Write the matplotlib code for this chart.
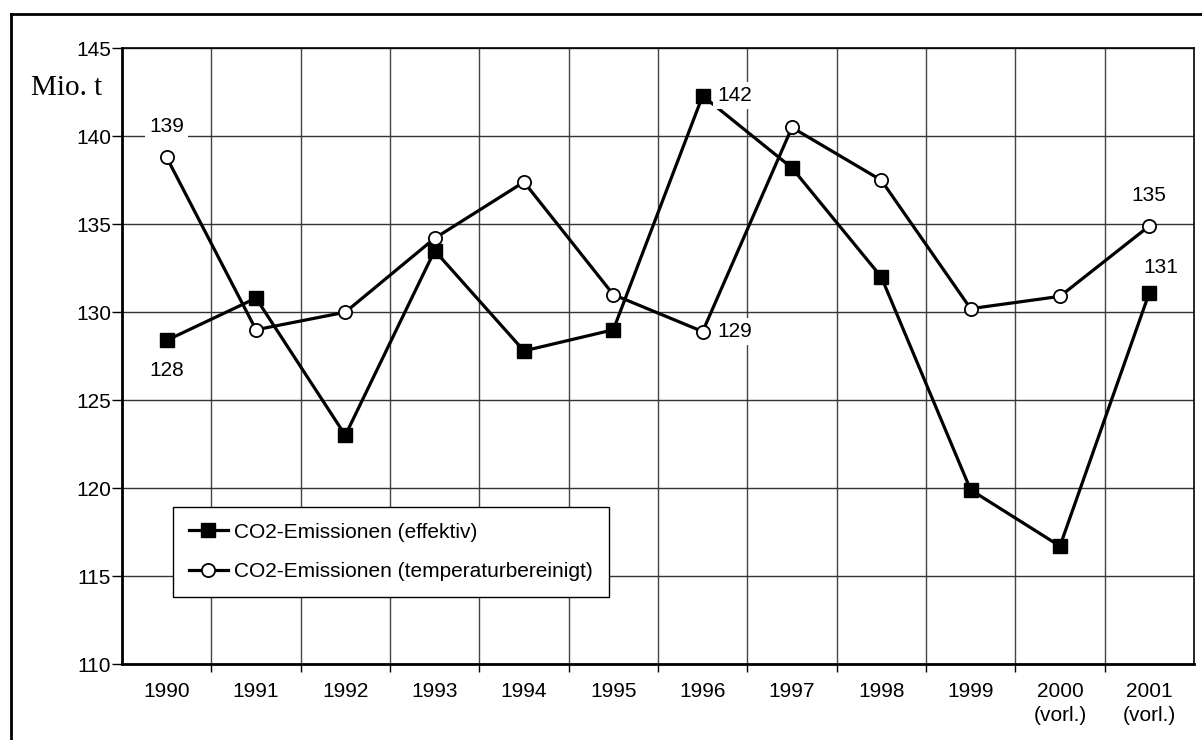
#!/usr/bin/env python
"""
Liniendiagramm der CO2-Emissionen 1990-2001 (effektiv und temperaturbereinigt)
"""
import numpy as np
import matplotlib
matplotlib.use('Agg')
import matplotlib.pyplot as plt
from matplotlib.lines import Line2D


YEARS = ['1990', '1991', '1992', '1993', '1994', '1995',
         '1996', '1997', '1998', '1999', '2000\n(vorl.)', '2001\n(vorl.)']

EFFEKTIV = [128.4, 130.8, 123.0, 133.5, 127.8, 129.0,
            142.3, 138.2, 132.0, 119.9, 116.7, 131.1]

TEMPERATURBEREINIGT = [138.8, 129.0, 130.0, 134.2, 137.4, 131.0,
                       128.9, 140.5, 137.5, 130.2, 130.9, 134.9]

# (index, series, label text, offset in points, white box)
VALUE_LABELS = [
    (0, 'temp', '139', (0, 22), True),
    (0, 'eff', '128', (0, -22), False),
    (6, 'eff', '142', (23, 0), True),
    (6, 'temp', '129', (23, 0), True),
    (11, 'temp', '135', (0, 22), False),
    (11, 'eff', '131', (8, 18), False),
]


def create_chart(out_file):

    plt.rcParams['font.family'] = ['Liberation Sans', 'DejaVu Sans']
    font_size = 15

    fig = plt.figure(figsize=(12.02, 7.40), dpi=100)
    ax = fig.add_axes([0.1015, 0.1027, 0.8918, 0.832])

    x = np.arange(len(YEARS))

    # Both series
    ax.plot(x, EFFEKTIV, color='black', lw=2.3, marker='s', markersize=9.5,
            markerfacecolor='black', markeredgecolor='black',
            label='CO2-Emissionen (effektiv)', zorder=3)
    ax.plot(x, TEMPERATURBEREINIGT, color='black', lw=2.3, marker='o',
            markersize=9.5, markerfacecolor='white', markeredgecolor='black',
            markeredgewidth=1.3,
            label='CO2-Emissionen (temperaturbereinigt)', zorder=4)

    # Value labels
    series = {'eff': EFFEKTIV, 'temp': TEMPERATURBEREINIGT}
    for idx, key, text, offset, boxed in VALUE_LABELS:
        bbox = None
        if boxed:
            bbox = dict(facecolor='white', edgecolor='none', pad=3)
        ax.annotate(text, (x[idx], series[key][idx]), xytext=offset,
                    textcoords='offset points', ha='center', va='center',
                    fontsize=font_size, bbox=bbox, zorder=5)

    # Axes
    ax.set_xlim(-0.5, len(YEARS) - 0.5)
    ax.set_ylim(110, 145)
    ax.set_yticks(np.arange(110, 146, 5))
    ax.set_xticks(x)
    ax.set_xticklabels(YEARS, linespacing=1.3)
    ax.set_xticks(x[:-1] + 0.5, minor=True)

    ax.tick_params(axis='x', which='major', length=0, pad=13,
                   labelsize=font_size)
    ax.tick_params(axis='x', which='minor', length=6, width=1,
                   direction='out')
    ax.tick_params(axis='y', which='major', length=7, width=1, pad=1,
                   labelsize=font_size)

    ax.grid(True, axis='y', which='major', color='#333333', lw=1)
    ax.grid(True, axis='x', which='minor', color='#444444', lw=1)
    ax.set_axisbelow(True)

    for side in ['left', 'bottom']:
        ax.spines[side].set_linewidth(2)
    for side in ['top', 'right']:
        ax.spines[side].set_linewidth(1.2)

    fig.text(67 / 1202, 1 - 88 / 740, 'Mio. t', family='Liberation Serif',
             fontsize=21, ha='center', va='center')

    legend = ax.legend(loc='upper left', bbox_to_anchor=(0.0476, 0.255),
                       borderaxespad=0, fontsize=font_size, fancybox=False,
                       framealpha=1, edgecolor='black', handlelength=1.9,
                       handletextpad=0.3, borderpad=0.75, labelspacing=1.0)
    legend.get_frame().set_linewidth(1)

    # Outer frame of the picture
    fig.add_artist(Line2D([0.0089, 0.0089], [0, 0.981], color='black', lw=2))
    fig.add_artist(Line2D([0.0089, 1], [0.981, 0.981], color='black', lw=2))

    fig.savefig(out_file, dpi=100)


if __name__ == '__main__':

    create_chart('out.png')
